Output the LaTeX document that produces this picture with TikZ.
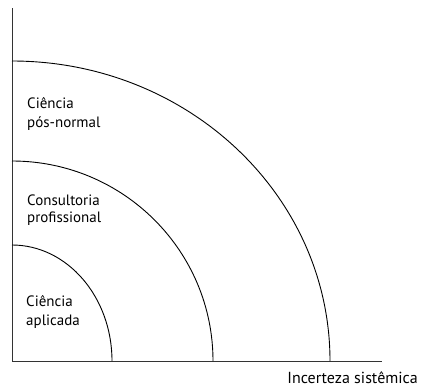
\documentclass[tikz,border=0pt]{standalone}
\usepackage{fontspec}
\setmainfont{PT Sans}
\begin{document}
\begin{tikzpicture}[x=1pt,y=-1pt,
  axis/.style={line width=0.8pt,draw=black!80},
  arcline/.style={line width=0.9pt,draw=black},
  lbl/.style={anchor=base west,inner sep=0pt,font=\fontsize{15}{17}\selectfont}]
\useasboundingbox (0,0) rectangle (423,388);
\coordinate (o) at (12,361);
\coordinate (ytop) at (12,8);
\coordinate (xend) at (382,361);
\draw[axis] (ytop) -- (o) -- (xend);
\draw[arcline] (112,361) arc[start angle=0,end angle=-90,x radius=100,y radius=116];
\draw[arcline] (213,361) arc[start angle=0,end angle=-90,x radius=201,y radius=200];
\draw[arcline] (330,361) arc[start angle=0,end angle=-90,x radius=318,y radius=300];
\node[lbl] (a1) at (26,306) {Ciência};
\node[lbl] (a2) at (26,325) {aplicada};
\node[lbl] (b1) at (27,205) {Consultoria};
\node[lbl] (b2) at (27,222) {profissional};
\node[lbl] (c1) at (27,108) {Ciência};
\node[lbl] (c2) at (27,127) {pós-normal};
\node[lbl,anchor=base east,font=\fontsize{16}{18}\selectfont] (x) at (418,383) {Incerteza sistêmica};
\end{tikzpicture}
\end{document}
